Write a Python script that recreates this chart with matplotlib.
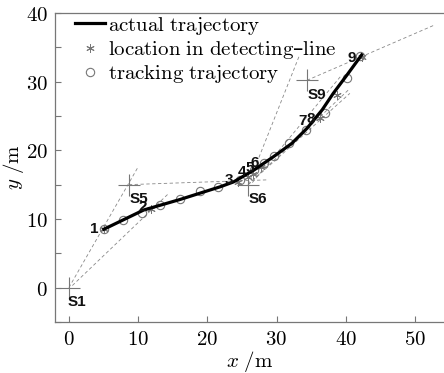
import matplotlib
matplotlib.use('Agg')
import matplotlib.pyplot as plt

plt.rcParams['mathtext.fontset'] = 'cm'

# 実軌跡
actual_x = [5.05, 10.8, 16.1, 21.9, 23.8, 26.7, 29.6, 32.2, 34.4, 36.6, 38.2, 40.2, 42.3]
actual_y = [8.5, 11.3, 12.85, 14.7, 15.4, 17.1, 19.1, 21.0, 23.2, 25.9, 28.3, 31.0, 33.9]

# 追跡軌跡 (○)
track_x = [5.0, 7.8, 10.6, 13.2, 16.1, 18.9, 21.6, 24.7, 26.7, 28.2, 29.6, 31.8, 34.3, 37.0, 40.2, 42.1]
track_y = [8.5, 9.8, 10.9, 12.0, 12.85, 14.0, 14.7, 15.7, 17.1, 18.2, 19.2, 21.0, 23.0, 25.5, 30.6, 33.8]

# 検出線上の位置 (*)
det_x = [5.1, 11.8, 24.5, 25.9, 26.6, 27.8, 36.3, 38.7, 42.4]
det_y = [8.6, 11.5, 15.4, 16.1, 16.5, 17.6, 24.7, 28.1, 33.6]
det_lbl = ['1', '2', '3', '4', '5', '6', '7', '8', '9']
det_lbl_x = [3.6, 10.6, 23.1, 25.0, 26.1, 26.9, 33.8, 35.0, 40.9]
det_lbl_y = [8.5, 11.7, 15.7, 16.9, 17.4, 18.1, 24.3, 24.6, 33.5]

# センサ
sens_x = [0.0, 8.66, 25.9, 34.4]
sens_y = [0.0, 15.0, 15.0, 30.2]
sens_lbl = ['S1', 'S5', 'S6', 'S9']
sens_lbl_x = [1.2, 10.1, 27.3, 35.8]
sens_lbl_y = [-2.1, 12.9, 12.9, 28.0]

# 検出線 (破線) 始点/終点
bx0 = [0.0, 0.5, 8.66, 25.9, 26.5, 25.9, 25.9, 34.4]
by0 = [0.0, 0.3, 15.0, 15.0, 15.3, 15.0, 15.0, 30.2]
bx1 = [9.9, 14.4, 28.8, 33.3, 39.2, 40.6, 40.6, 52.7]
by1 = [17.4, 13.7, 15.7, 33.8, 30.7, 29.0, 28.3, 38.2]

xticks = [0, 10, 20, 30, 40, 50]
yticks = [0, 10, 20, 30, 40]

fig = plt.figure(figsize=(4.44, 3.73), dpi=100)
ax = fig.add_axes([0.124, 0.137, 0.876, 0.828])

gray = '#777777'
for x0, y0, x1, y1 in zip(bx0, by0, bx1, by1):
    ax.plot([x0, x1], [y0, y1], ls=(0, (4, 3)), color='#888888', lw=0.6, zorder=1)

ax.plot(sens_x, sens_y, ls='none', marker='+', ms=16, mew=0.8, color=gray, zorder=2)
for t, x, y in zip(sens_lbl, sens_lbl_x, sens_lbl_y):
    ax.text(x, y, t, ha='center', va='center', fontsize=11, family='Liberation Sans',
            weight='bold', color='#111111')

ln, = ax.plot(actual_x, actual_y, color='black', lw=2.3, zorder=4)
st, = ax.plot(det_x, det_y, ls='none', marker=(6, 2, 0), ms=6, mew=0.7, color=gray, zorder=3)
ci, = ax.plot(track_x, track_y, ls='none', marker='o', ms=6, mfc='none', mew=0.8,
              mec=gray, zorder=3)
for t, x, y in zip(det_lbl, det_lbl_x, det_lbl_y):
    ax.text(x, y, t, ha='center', va='center', fontsize=11, family='Liberation Sans',
            weight='bold', color='#111111', zorder=5)

ax.set_xlim(-2, 54.2)
ax.set_ylim(-5, 40)
ax.set_xticks(xticks)
ax.set_xticklabels([f'${v}$' for v in xticks])
ax.set_yticks(yticks)
ax.set_yticklabels([f'${v}$' for v in yticks])
ax.set_yticks([-5, 5, 15, 25, 35], minor=True)
ax.tick_params(direction='in', length=4, width=0.8, color=gray, labelsize=15, pad=5)
ax.tick_params(which='minor', direction='in', length=4, width=0.8, color=gray)
for s in ['left', 'bottom', 'top']:
    ax.spines[s].set_color(gray)
    ax.spines[s].set_linewidth(0.9)
ax.spines['right'].set_visible(False)

ax.set_xlabel(r'$x\ /\mathrm{m}$', fontsize=15, labelpad=0)
ax.set_ylabel(r'$y\ /\mathrm{m}$', fontsize=15, labelpad=0)

ax.legend([ln, st, ci],
          [r'$\mathrm{actual\ trajectory}$', r'$\mathrm{location\ in\ detecting}$–$\mathrm{line}$',
           r'$\mathrm{tracking\ trajectory}$'],
          loc='upper left', bbox_to_anchor=(0.02, 1.035), frameon=False, fontsize=15,
          handlelength=1.4, handletextpad=0.15, labelspacing=0.1, borderaxespad=0.2)

fig.savefig('out.png', dpi=100)
